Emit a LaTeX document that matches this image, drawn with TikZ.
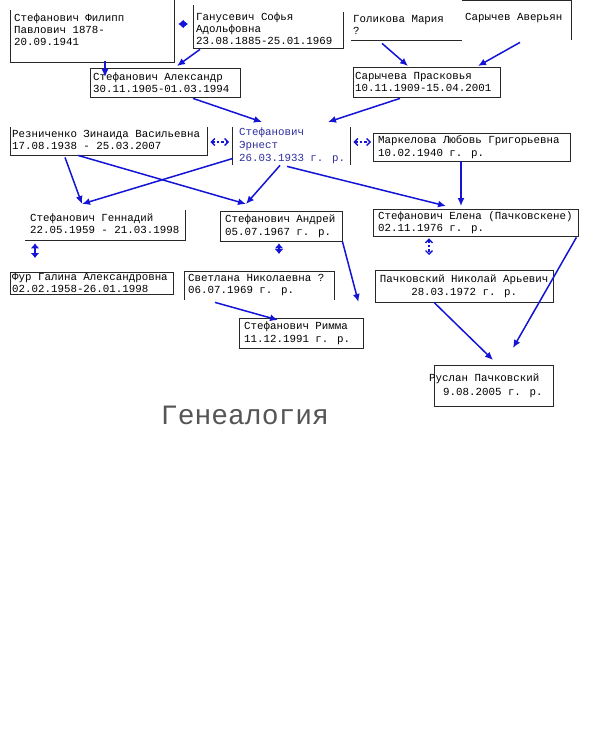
\documentclass[tikz,border=0pt]{standalone}
\usepackage{fontspec}
\newfontfamily\mono{Liberation Mono}
\usetikzlibrary{arrows.meta}
\definecolor{arrblue}{RGB}{20,20,215}
\definecolor{ernblue}{RGB}{45,45,160}
\definecolor{framec}{RGB}{40,40,40}
\definecolor{titlegray}{RGB}{85,85,85}
\begin{document}
\begin{tikzpicture}[x=1pt,y=-1pt,
  frame/.style={draw=none,inner sep=0pt,anchor=north west},
  bline/.style={draw=framec,line width=0.8pt},
  txt/.style={inner sep=0pt,anchor=west,align=left,font=\mono\fontsize{10.8}{12.2}\selectfont},
  arr/.style={draw=arrblue,line width=1.5pt,-{Latex[length=8pt,width=7pt]}},
  mini/.style={draw=arrblue,line width=1.6pt,{Latex[length=5pt,width=9pt]}-{Latex[length=5pt,width=9pt]}},
  dbl/.style={draw=arrblue,line width=1.4pt,dash pattern=on 2.5pt off 2pt,{Straight Barb[length=3.5pt,width=7pt]}-{Straight Barb[length=3.5pt,width=7pt]}}
]
\useasboundingbox (0,0) rectangle (590,754);

% ---------- boxes ----------
\node[frame,minimum width=164,minimum height=65] (filipp) at (10,-3) {};
\node[frame,minimum width=150,minimum height=39] (ganus) at (193,9) {};
\node[frame,minimum width=111,minimum height=30] (golik) at (351,10) {};
\node[frame,minimum width=109,minimum height=36] (avery) at (462,0) {};
\node[frame,minimum width=150,minimum height=29] (aleks) at (90,68) {};
\node[frame,minimum width=147,minimum height=30] (prask) at (353,67) {};
\node[frame,minimum width=197,minimum height=31] (rezn) at (10,124) {};
\node[frame,minimum width=118,minimum height=38] (ernest) at (232,127) {};
\node[frame,minimum width=197,minimum height=28] (markel) at (373,133) {};
\node[frame,minimum width=160,minimum height=33] (genn) at (25,207) {};
\node[frame,minimum width=163,minimum height=22] (fur) at (10,272) {};
\node[frame,minimum width=122,minimum height=30] (andrey) at (220,211) {};
\node[frame,minimum width=150,minimum height=27] (svet) at (184,271) {};
\node[frame,minimum width=124,minimum height=30] (rimma) at (239,318) {};
\node[frame,minimum width=205,minimum height=27] (elena) at (373,209) {};
\node[frame,minimum width=178,minimum height=32] (nikol) at (375,270) {};
\node[frame,minimum width=119,minimum height=41] (ruslan) at (434,365) {};

% ---------- frames (visible sides only) ----------
\draw[bline] ([shift={(0,13)}]filipp.north west) -- (filipp.south west) -- (filipp.south east) -- ([shift={(0,3)}]filipp.north east);
\draw[bline] ([shift={(0,-4)}]ganus.north west) -- (ganus.south west) -- (ganus.south east) -- ([shift={(0,3)}]ganus.north east);
\draw[bline] (golik.south west) -- (golik.south east);
\draw[bline] ([shift={(0,0.5)}]avery.north west) -- ([shift={(0,0.5)}]avery.north east) -- ([shift={(0,4)}]avery.south east);
\draw[bline] (aleks.north west) rectangle (aleks.south east);
\draw[bline] (prask.north west) rectangle (prask.south east);
\draw[bline] ([shift={(0,3)}]rezn.north west) -- (rezn.south west) -- (rezn.south east) -- ([shift={(0,3)}]rezn.north east);
\draw[bline] (ernest.north west) -- (ernest.south west);
\draw[bline] (ernest.north east) -- (ernest.south east);
\draw[bline] (markel.north west) rectangle (markel.south east);
\draw[bline] (genn.south west) -- (genn.south east) -- ([shift={(0,3)}]genn.north east);
\draw[bline] (fur.north west) rectangle (fur.south east);
\draw[bline] (andrey.north west) rectangle (andrey.south east);
\draw[bline] ([shift={(0,2)}]svet.south west) -- (svet.north west) -- (svet.north east) -- ([shift={(0,2)}]svet.south east);
\draw[bline] (rimma.north west) rectangle (rimma.south east);
\draw[bline] (elena.north west) rectangle (elena.south east);
\draw[bline] (nikol.north west) rectangle (nikol.south east);
\draw[bline] (ruslan.north west) rectangle (ruslan.south east);

% ---------- texts ----------
\node[txt] (filipp-t) at ([shift={(4,0)}]filipp.west) {Стефанович Филипп\\Павлович 1878-\\20.09.1941};
\node[txt] (ganus-t) at ([shift={(3,0)}]ganus.west) {Ганусевич Софья\\Адольфовна\\23.08.1885-25.01.1969};
\node[txt] (golik-t) at ([shift={(2,0)}]golik.west) {Голикова Мария\\?};
\node[txt] (avery-t) at ([shift={(3,0)}]avery.west) {Сарычев Аверьян};
\node[txt] (aleks-t) at ([shift={(3,0)}]aleks.west) {Стефанович Александр\\30.11.1905-01.03.1994};
\node[txt] (prask-t) at ([shift={(2,0)}]prask.west) {Сарычева Прасковья\\10.11.1909-15.04.2001};
\node[txt] (rezn-t) at ([shift={(2,0)}]rezn.west) {Резниченко Зинаида Васильевна\\17.08.1938 - 25.03.2007};
\node[txt,text=ernblue,font=\mono\fontsize{10.8}{13}\selectfont] (ernest-t) at ([shift={(7,0)}]ernest.west) {Стефанович\\Эрнест\\26.03.1933 г. р.};
\node[txt] (markel-t) at ([shift={(5,0)}]markel.west) {Маркелова Любовь Григорьевна\\10.02.1940 г. р.};
\node[txt] (genn-t) at ([shift={(5,0)}]genn.west) {Стефанович Геннадий\\22.05.1959 - 21.03.1998};
\node[txt,font=\mono\fontsize{10.8}{11.5}\selectfont] (fur-t) at ([shift={(2,0)}]fur.west) {Фур Галина Александровна\\02.02.1958-26.01.1998};
\node[txt] (andrey-t) at ([shift={(5,0)}]andrey.west) {Стефанович Андрей\\05.07.1967 г. р.};
\node[txt] (svet-t) at ([shift={(4,0)}]svet.west) {Светлана Николаевна ?\\06.07.1969 г. р.};
\node[txt] (rimma-t) at ([shift={(5,0)}]rimma.west) {Стефанович Римма\\11.12.1991 г. р.};
\node[txt] (elena-t) at ([shift={(5,0)}]elena.west) {Стефанович Елена (Пачковскене)\\02.11.1976 г. р.};
\node[txt,anchor=center,align=center] (nikol-t) at (nikol.center) {Пачковский Николай Арьевич\\28.03.1972 г. р.};
\node[txt,font=\mono\fontsize{10.8}{14.5}\selectfont] (ruslan-t) at ([shift={(-5,0)}]ruslan.west) {Руслан Пачковский\\\hspace*{14pt}9.08.2005 г. р.};

\node[inner sep=0pt,text=titlegray,font=\mono\fontsize{28}{30}\selectfont] (title) at (245,415) {Генеалогия};

% ---------- connectors ----------
\draw[arr] ([shift={(95,-1)}]filipp.south west) -- ([shift={(15,9)}]aleks.north west);
\draw[arr] ([shift={(7,1)}]ganus.south west) -- ([shift={(87,-2)}]aleks.north west);
\draw[arr] ([shift={(31,3)}]golik.south west) -- ([shift={(55,-1)}]prask.north west);
\draw[arr] ([shift={(58,6)}]avery.south west) -- ([shift={(125,-1)}]prask.north west);
\draw[arr] ([shift={(103,1)}]aleks.south west) -- ([shift={(30,-5)}]ernest.north west);
\draw[arr] ([shift={(47,1)}]prask.south west) -- ([shift={(96,-5)}]ernest.north west);
\draw[arr] ([shift={(55,2)}]rezn.south west) -- ([shift={(57,-3)}]genn.north west);
\draw[arr] ([shift={(1,-7)}]ernest.south west) -- ([shift={(57,-3)}]genn.north west);
\draw[arr] ([shift={(68,0)}]rezn.south west) -- ([shift={(26,-7)}]andrey.north west);
\draw[arr] ([shift={(48,0)}]ernest.south west) -- ([shift={(26,-7)}]andrey.north west);
\draw[arr] ([shift={(55,1)}]ernest.south west) -- ([shift={(73,-3)}]elena.north west);
\draw[arr] ([shift={(88,0)}]markel.south west) -- ([shift={(88,-3)}]elena.north west);
\draw[arr] ([shift={(0,0)}]andrey.south east) -- ([shift={(-5,-16)}]rimma.north east);
\draw[arr] ([shift={(31,4)}]svet.south west) -- ([shift={(39,2)}]rimma.north west);
\draw[arr] ([shift={(-2,1)}]elena.south east) -- ([shift={(79,-17)}]ruslan.north west);
\draw[arr] ([shift={(59,0)}]nikol.south west) -- ([shift={(59,-5)}]ruslan.north west);

% spouse links
\draw[mini] ([shift={(4,27)}]filipp.north east) -- ([shift={(-5,15)}]ganus.north west);
\draw[dbl] ([shift={(3,18)}]rezn.north east) -- ([shift={(-3,15)}]ernest.north west);
\draw[dbl] ([shift={(3,15)}]ernest.north east) -- ([shift={(-2,9)}]markel.north west);
\draw[mini] ([shift={(10,3)}]genn.south west) -- ([shift={(25,-14)}]fur.north west);
\draw[mini] ([shift={(59,2)}]andrey.south west) -- ([shift={(95,-17)}]svet.north west);
\draw[dbl] ([shift={(56,2)}]elena.south west) -- ([shift={(54,-15)}]nikol.north west);
\end{tikzpicture}
\end{document}
